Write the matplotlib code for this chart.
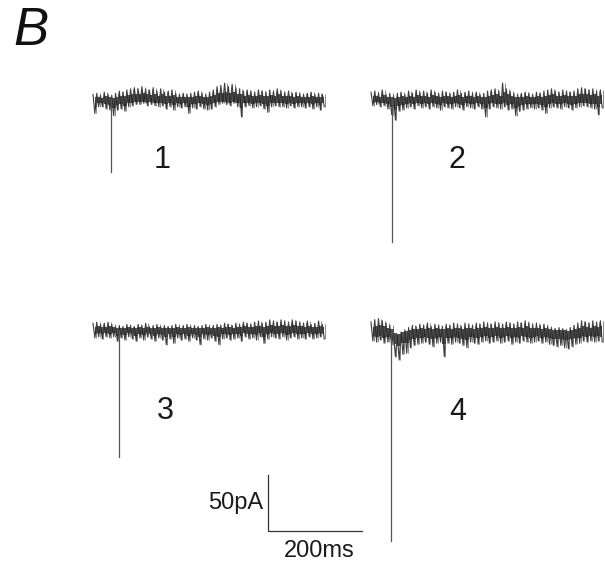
import numpy as np
import matplotlib
matplotlib.use("Agg")
import matplotlib.pyplot as plt

# Recording scale: 0.47 px per ms, 1.12 px per pA
PX_PER_MS = 0.47
PX_PER_PA = 1.12
BIN_MS = 8  # each envelope bin spans 8 ms (upper edge at start, lower edge mid-bin)

trace_labels = ["1", "2", "3", "4"]

# stimulus artefact: time (ms from sweep start) and peak amplitude (pA, inward)
stim_time = [38, 45, 55, 43]
stim_peak = [64, 127, 113, 187]

# per-bin upper / lower envelope of the holding current (pA, relative to baseline)
upper_1 = [5, 6, 4, 7, 5, 4, 6, 8, 7, 9, 10, 11, 10, 12, 10, 9, 11, 8, 10, 7,
           8, 9, 6, 5, 6, 5, 6, 7, 8, 6, 5, 7, 9, 12, 13, 15, 12, 14, 11, 10,
           8, 9, 8, 7, 9, 8, 7, 9, 8, 10, 8, 7, 8, 6, 7, 6, 5, 6, 7, 5, 6, 5]
lower_1 = [-12, -6, -6, -8, -9, -14, -9, -8, -10, -6, -5, -4, -4, -3, -5, -4, -5, -6, -5, -8,
           -6, -9, -6, -7, -6, -12, -7, -8, -6, -8, -9, -8, -6, -4, -3, -4, -5, -3, -6, -15,
           -6, -5, -7, -6, -5, -8, -11, -6, -5, -6, -6, -7, -5, -7, -6, -6, -7, -6, -8, -6, -9, -6]

upper_2 = [7, 8, 6, 9, 5, 6, 4, 6, 7, 5, 8, 6, 9, 7, 8, 6, 9, 7, 6, 8,
           7, 6, 7, 9, 6, 7, 8, 6, 7, 5, 6, 8, 9, 10, 8, 15, 10, 8, 6, 5,
           6, 7, 6, 5, 7, 6, 8, 9, 10, 8, 7, 9, 8, 7, 8, 10, 11, 10, 9, 10, 8, 9]
lower_2 = [-5, -4, -6, -5, -8, -13, -18, -10, -9, -7, -6, -8, -5, -7, -6, -8, -6, -7, -9, -6,
           -7, -8, -6, -7, -9, -6, -7, -8, -6, -8, -15, -8, -6, -7, -8, -6, -9, -8, -14, -10,
           -9, -8, -7, -8, -7, -9, -12, -7, -6, -7, -8, -6, -7, -9, -7, -6, -5, -6, -7, -8, -13, -7]

upper_3 = [6, 7, 5, 6, 7, 5, 3, 4, 3, 5, 4, 3, 5, 4, 6, 3, 4, 5, 3, 4,
           3, 4, 5, 3, 4, 5, 3, 4, 3, 4, 5, 3, 4, 5, 4, 6, 5, 4, 6, 5,
           7, 6, 5, 7, 8, 6, 7, 9, 8, 7, 9, 8, 7, 9, 8, 7, 6, 8, 5, 6, 8, 5]
lower_3 = [-7, -6, -8, -6, -7, -6, -10, -7, -9, -6, -8, -10, -7, -9, -6, -8, -10, -7, -9, -13,
           -8, -12, -7, -9, -8, -10, -7, -9, -13, -8, -9, -7, -10, -13, -8, -7, -9, -8, -7, -10,
           -6, -8, -7, -9, -6, -12, -8, -6, -7, -8, -6, -9, -7, -6, -8, -7, -8, -6, -8, -7, -6, -8]

upper_4 = [9, 11, 12, 10, 8, 6, -2, -3, 0, 2, 4, 6, 5, 7, 6, 8, 5, 7, 6, 5,
           7, 6, 8, 7, 5, 8, 7, 6, 8, 7, 9, 8, 7, 9, 8, 7, 9, 8, 7, 9,
           8, 10, 8, 7, 8, 6, 7, 5, 4, 3, 4, 3, 2, 4, 6, 8, 10, 9, 8, 10, 9, 10]
lower_4 = [-8, -9, -7, -10, -9, -12, -22, -25, -20, -19, -14, -12, -11, -10, -9, -11, -13, -10, -9, -22,
           -10, -11, -9, -10, -12, -14, -9, -10, -11, -9, -8, -10, -9, -8, -10, -9, -8, -11, -9, -10,
           -8, -9, -10, -9, -8, -10, -9, -11, -12, -13, -12, -14, -15, -13, -11, -10, -8, -9, -8, -9, -8, -9]

uppers = [upper_1, upper_2, upper_3, upper_4]
lowers = [lower_1, lower_2, lower_3, lower_4]

# sweep start / baseline position of each panel on the page (pixels)
origins_px = [(93, 100), (371, 100), (93, 330), (371, 332)]
label_px = [(162, 160), (457, 160), (165, 411), (458, 412)]

W, H = 605, 571
fig = plt.figure(figsize=(W / 100, H / 100), dpi=100)
ax = fig.add_axes([0, 0, 1, 1])
ax.set_xlim(0, W / PX_PER_MS)
ax.set_ylim(-H / PX_PER_PA, 0)
ax.axis("off")


def page_x(px):
    return px / PX_PER_MS


def page_y(py):
    return -py / PX_PER_PA


for up, lo, ts, pk, (ox, oy), lab, (lx, ly) in zip(
        uppers, lowers, stim_time, stim_peak, origins_px, trace_labels, label_px):
    x0, y0 = page_x(ox), page_y(oy)
    up = np.asarray(up, float)
    lo = np.asarray(lo, float)
    n = len(up)
    tb = np.arange(n) * BIN_MS
    # dense core of the noise band: half of each bin's excursion
    ax.fill_between(x0 + tb + BIN_MS / 2, y0 + 0.5 * up, y0 + 0.5 * lo,
                    step="mid", color="#333333", lw=0, alpha=0.85)
    # full excursions as a min/max trace
    t = np.empty(2 * n)
    v = np.empty(2 * n)
    t[0::2] = tb
    t[1::2] = tb + BIN_MS / 2
    v[0::2] = up
    v[1::2] = lo
    ax.plot(x0 + t, y0 + v, color="#262626", lw=0.8, alpha=0.9)
    ax.vlines(x0 + tb + 3 * BIN_MS / 4, y0 + lo, y0 + up, color="#4a4a4a",
              lw=0.6, alpha=0.75)
    # stimulus artefact
    ax.plot([x0 + ts, x0 + ts], [y0, y0 - pk], color="#555555", lw=0.9)
    ax.text(page_x(lx), page_y(ly), lab, ha="center", va="center",
            fontsize=22, family="Liberation Sans", color="#1a1a1a")

# scale bar: 50 pA, 200 ms
sb_x, sb_y = page_x(268), page_y(531)
ax.plot([sb_x, sb_x, sb_x + 200], [sb_y + 50, sb_y, sb_y],
        color="#333333", lw=0.9, solid_joinstyle="miter")
ax.text(sb_x - page_x(5), sb_y + 25, "50pA", ha="right", va="center",
        fontsize=17, family="Liberation Sans", color="#1a1a1a")
ax.text(sb_x + 110, page_y(551), "200ms",
        ha="center", va="center", fontsize=17, family="Liberation Sans",
        color="#1a1a1a")

fig.text(13 / W, 1 - 31 / H, "B", ha="left", va="center", fontsize=38,
         style="italic", family="Liberation Sans", color="#111111")

fig.savefig("out.png", dpi=100, facecolor="white")
